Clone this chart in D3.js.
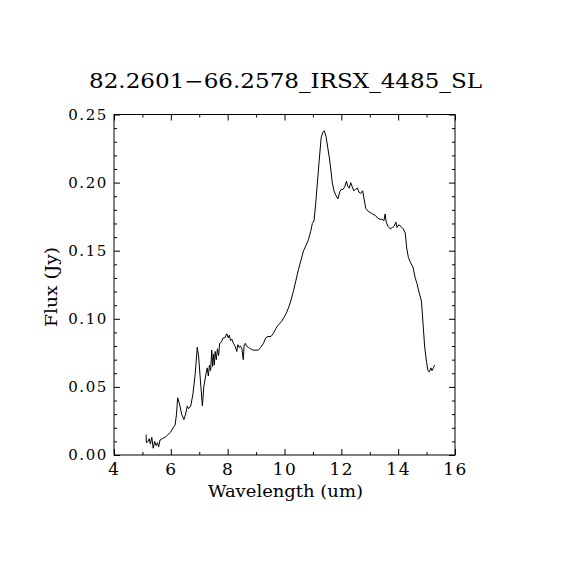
<!DOCTYPE html>
<html>
<head>
<meta charset="utf-8">
<script src="https://cdn.jsdelivr.net/npm/d3@7"></script>
<style>
  body { margin: 0; background: #fff; }
  svg { display: block; }
  text { font-family: "DejaVu Serif", serif; fill: #000; }
</style>
</head>
<body>
<div id="div_canvas"></div>
<script>
var title = "82.2601\u221266.2578_IRSX_4485_SL";
var xLabel = "Wavelength (um)";
var yLabel = "Flux (Jy)";

var xTicks = [4, 6, 8, 10, 12, 14, 16];
var yTicks = [0.00, 0.05, 0.10, 0.15, 0.20, 0.25];

var wavelength = [5.13, 5.14, 5.20, 5.24, 5.28, 5.33, 5.38, 5.43, 5.48, 5.53, 5.57, 5.62, 5.70, 5.80, 5.90,
    6.00, 6.08, 6.15, 6.20, 6.24, 6.30, 6.38, 6.46, 6.52, 6.58, 6.62, 6.70, 6.78, 6.86, 6.93, 6.98,
    7.04, 7.11, 7.16, 7.24, 7.28, 7.32, 7.36, 7.40, 7.44, 7.47, 7.50, 7.53, 7.56, 7.60, 7.64, 7.68,
    7.72, 7.78, 7.84, 7.90, 7.97, 8.02, 8.06, 8.10, 8.15, 8.20, 8.26, 8.32, 8.36, 8.40, 8.45, 8.50,
    8.55, 8.58, 8.62, 8.66, 8.73, 8.80, 8.90, 9.00, 9.08, 9.16, 9.26, 9.34, 9.42, 9.52, 9.60, 9.70,
    9.80, 9.90, 9.98, 10.06, 10.14, 10.22, 10.31, 10.40, 10.49, 10.58, 10.67, 10.76, 10.84, 10.92,
    10.98, 11.04, 11.10, 11.15, 11.22, 11.29, 11.35, 11.40, 11.46, 11.52, 11.58, 11.64, 11.68, 11.74,
    11.80, 11.88, 11.94, 11.99, 12.06, 12.12, 12.18, 12.23, 12.28, 12.33, 12.38, 12.44, 12.50, 12.57,
    12.62, 12.68, 12.75, 12.80, 12.86, 12.94, 13.02, 13.10, 13.19, 13.28, 13.37, 13.44, 13.50, 13.54,
    13.58, 13.64, 13.72, 13.80, 13.86, 13.92, 13.96, 14.02, 14.09, 14.18, 14.25, 14.30, 14.36, 14.44,
    14.52, 14.60, 14.66, 14.74, 14.82, 14.88, 14.93, 15.00, 15.05, 15.10, 15.15, 15.19, 15.24, 15.28];

var flux = [0.015, 0.009, 0.010, 0.012, 0.008, 0.013, 0.005, 0.010, 0.007, 0.009, 0.006, 0.011, 0.012, 0.013, 0.015,
    0.017, 0.020, 0.022, 0.030, 0.042, 0.038, 0.030, 0.026, 0.030, 0.036, 0.034, 0.036, 0.045, 0.060, 0.079, 0.072,
    0.055, 0.036, 0.050, 0.060, 0.064, 0.058, 0.066, 0.062, 0.077, 0.065, 0.074, 0.066, 0.076, 0.070, 0.078, 0.073,
    0.082, 0.083, 0.086, 0.086, 0.089, 0.086, 0.088, 0.084, 0.085, 0.082, 0.080, 0.076, 0.081, 0.079, 0.080, 0.078,
    0.070, 0.081, 0.082, 0.080, 0.079, 0.078, 0.077, 0.077, 0.077, 0.079, 0.082, 0.086, 0.087, 0.087, 0.089, 0.093,
    0.096, 0.098, 0.101, 0.104, 0.108, 0.113, 0.120, 0.128, 0.136, 0.143, 0.150, 0.154, 0.158, 0.164,
    0.170, 0.172, 0.185, 0.198, 0.216, 0.233, 0.237, 0.238, 0.234, 0.226, 0.218, 0.208, 0.200, 0.194,
    0.191, 0.188, 0.193, 0.195, 0.195, 0.197, 0.201, 0.197, 0.196, 0.200, 0.197, 0.194, 0.195, 0.196,
    0.193, 0.192, 0.194, 0.188, 0.181, 0.179, 0.178, 0.177, 0.176, 0.174, 0.173, 0.173, 0.172, 0.177,
    0.171, 0.168, 0.166, 0.167, 0.168, 0.171, 0.167, 0.169, 0.168, 0.166, 0.163, 0.152, 0.145, 0.141,
    0.138, 0.130, 0.126, 0.119, 0.113, 0.095, 0.080, 0.068, 0.062, 0.061, 0.064, 0.062, 0.064, 0.066];

var W = 570, H = 570;
var plotLeft = 114, plotRight = 455, plotTop = 114.5, plotBottom = 455;

var svg = d3.select("#div_canvas").append("svg")
    .attr("width", W)
    .attr("height", H)

var x = d3.scaleLinear().domain([4, 16]).range([plotLeft, plotRight]);
var y = d3.scaleLinear().domain([0, 0.25]).range([plotBottom, plotTop]);

var xMinor = d3.range(5, 16, 2);
var yMinor = d3.range(0, 26).map(d => d / 100).filter(d => Math.round(d * 100) % 5 != 0);

// Ticks (inward on all four sides)

function axisGroup(axis, tx, ty) {
    var g = svg.append("g")
        .attr("transform", "translate(" + tx + "," + ty + ")")
        .call(axis);
    g.select(".domain").remove();
    g.selectAll("line").attr("stroke", "#000");
    return g;
}

var xAxis = axisGroup(d3.axisBottom(x).tickValues(xTicks).tickSize(-6).tickPadding(8)
    .tickFormat(d3.format("d")), 0, plotBottom);
xAxis.selectAll("text")
    .attr("font-size", 17)
    .attr("letter-spacing", 1.5)
    .attr("font-family", "DejaVu Serif");

axisGroup(d3.axisBottom(x).tickValues(xMinor).tickSize(-3).tickFormat(""), 0, plotBottom);
axisGroup(d3.axisTop(x).tickValues(xTicks).tickSize(-6).tickFormat(""), 0, plotTop);
axisGroup(d3.axisTop(x).tickValues(xMinor).tickSize(-3).tickFormat(""), 0, plotTop);

var yAxis = axisGroup(d3.axisLeft(y).tickValues(yTicks).tickSize(-6).tickPadding(6)
    .tickFormat(d3.format(".2f")), plotLeft, 0);
yAxis.selectAll("text")
    .attr("font-size", 15)
    .attr("letter-spacing", 1.6)
    .attr("font-family", "DejaVu Serif");

axisGroup(d3.axisLeft(y).tickValues(yMinor).tickSize(-3).tickFormat(""), plotLeft, 0);
axisGroup(d3.axisRight(y).tickValues(yTicks).tickSize(-6).tickFormat(""), plotRight, 0);
axisGroup(d3.axisRight(y).tickValues(yMinor).tickSize(-3).tickFormat(""), plotRight, 0);

// Frame

svg.append("rect")
    .attr("x", plotLeft)
    .attr("y", plotTop)
    .attr("width", plotRight - plotLeft)
    .attr("height", plotBottom - plotTop)
    .attr("fill", "none")
    .attr("stroke", "#000")
    .attr("stroke-width", 1)

// Spectrum

var points = wavelength.map((w, i) => [w, flux[i]]);
var line = d3.line().x(d => x(d[0])).y(d => y(d[1]));

svg.append("path")
    .datum(points)
    .attr("d", line)
    .attr("fill", "none")
    .attr("stroke", "#000")
    .attr("stroke-width", 1)

// Labels

svg.append("text")
    .attr("x", 285.5)
    .attr("y", 88)
    .attr("text-anchor", "middle")
    .attr("font-size", 20)
    .attr("textLength", 393)
    .attr("lengthAdjust", "spacingAndGlyphs")
    .text(title)

svg.append("text")
    .attr("x", 285.5)
    .attr("y", 497)
    .attr("text-anchor", "middle")
    .attr("font-size", 17.5)
    .attr("textLength", 155)
    .attr("lengthAdjust", "spacingAndGlyphs")
    .text(xLabel)

svg.append("text")
    .attr("transform", "translate(57," + 287 + ") rotate(-90)")
    .attr("text-anchor", "middle")
    .attr("font-size", 17)
    .attr("textLength", 80)
    .attr("lengthAdjust", "spacingAndGlyphs")
    .text(yLabel)
</script>
</body>
</html>
